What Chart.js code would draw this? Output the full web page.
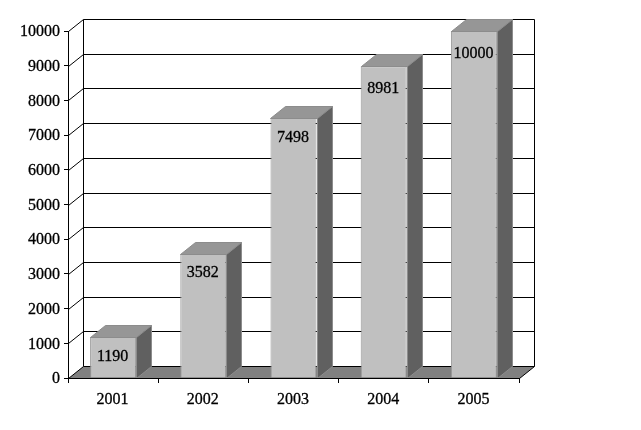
<!DOCTYPE html>
<html>
<head>
<meta charset="utf-8">
<style>
body { margin: 0; background: #fff; }
canvas { display: block; }
</style>
<script src="https://cdn.jsdelivr.net/npm/chart.js@4"></script>
</head>
<body>
<canvas id="bar-Chart" width="641" height="430"></canvas>
<script>
const years = ['2001', '2002', '2003', '2004', '2005'];
const amounts = [1190, 3582, 7498, 8981, 10000];
const yTicks = [0, 1000, 2000, 3000, 4000, 5000, 6000, 7000, 8000, 9000, 10000];

// depth of the fake 3d box
const dx = 15;
const dy = 12;
const font = '"Liberation Serif", "Times New Roman", serif';
// how far each value sits below the top of its bar
const labelDrop = [19, 18, 19, 22, 22];

function poly(c, pts, fill, stroke) {
    c.beginPath();
    pts.forEach((p, i) => i ? c.lineTo(p[0], p[1]) : c.moveTo(p[0], p[1]));
    c.closePath();
    if (fill) { c.fillStyle = fill; c.fill(); }
    if (stroke) { c.strokeStyle = stroke; c.lineWidth = 1; c.stroke(); }
}

const box3d = {
    id: 'box3d',
    beforeDatasetsDraw(chart) {
        const c = chart.ctx;
        const { left, right } = chart.chartArea;
        const y = chart.scales.y;
        const x0 = left + 0.5, x1 = right + 0.5;
        const base = Math.round(y.getPixelForValue(0)) + 0.5;
        const top = Math.round(y.getPixelForValue(10000)) + 0.5;
        c.save();
        // floor
        poly(c, [[x0, base], [x0 + dx, base - dy], [x1 + dx, base - dy], [x1, base]], '#808080', '#000');
        // wall lines
        c.strokeStyle = '#000';
        c.lineWidth = 1;
        yTicks.forEach(v => {
            if (v === 0) return;
            const py = Math.round(y.getPixelForValue(v)) + 0.5;
            c.beginPath();
            c.moveTo(x0, py);
            c.lineTo(x0 + dx, py - dy);
            c.lineTo(x1 + dx, py - dy);
            c.stroke();
        });
        c.beginPath();
        c.moveTo(x0 + dx, top - dy);
        c.lineTo(x0 + dx, base - dy);
        c.moveTo(x1 + dx, top - dy);
        c.lineTo(x1 + dx, base - dy);
        c.stroke();
        c.restore();
    },
    afterDatasetsDraw(chart) {
        const c = chart.ctx;
        const meta = chart.getDatasetMeta(0);
        c.save();
        meta.data.forEach((bar, i) => {
            const l = Math.round(bar.x - bar.width / 2) + 0.5;
            const r = Math.round(bar.x + bar.width / 2) + 0.5;
            const t = Math.round(bar.y) + 0.5;
            const b = Math.round(bar.base) + 0.5;
            poly(c, [[l, t], [l + dx, t - dy], [r + dx, t - dy], [r, t]], '#969696', '#8c8c8c');
            poly(c, [[r, t], [r + dx, t - dy], [r + dx, b - dy], [r, b]], '#606060', '#8c8c8c');
            c.fillStyle = '#000';
            c.strokeStyle = '#000';
            c.lineWidth = 0.3;
            c.font = '16px ' + font;
            c.textAlign = 'center';
            c.textBaseline = 'middle';
            c.fillText(String(amounts[i]), bar.x - 0.5, t + labelDrop[i]);
            c.strokeText(String(amounts[i]), bar.x - 0.5, t + labelDrop[i]);
        });
        c.restore();
    }
};

const ctx = document.getElementById('bar-Chart').getContext('2d');
const myChart = new Chart(ctx, {
    type: 'bar',
    data: {
        labels: years,
        datasets: [{
            data: amounts,
            backgroundColor: '#c0c0c0',
            borderColor: '#969696',
            borderWidth: 1,
            barPercentage: 0.51,
            categoryPercentage: 1
        }]
    },
    plugins: [box3d],
    options: {
        responsive: false,
        animation: false,
        devicePixelRatio: 1,
        layout: { padding: { top: 31, right: 122 } },
        plugins: { legend: { display: false }, tooltip: { enabled: false } },
        scales: {
            x: {
                afterFit(s) { s.height = 52; },
                grid: { drawOnChartArea: false, color: '#000', tickLength: 5, z: 1 },
                border: { color: '#000', z: 1 },
                ticks: {
                    color: '#000', padding: 7, maxRotation: 0, labelOffset: -0.5,
                    textStrokeColor: '#000', textStrokeWidth: 0.3,
                    font: { family: font, size: 16 }
                }
            },
            y: {
                min: 0,
                max: 10000,
                afterFit(s) { s.width = 68; },
                afterBuildTicks(s) { s.ticks = yTicks.map(v => ({ value: v })); },
                grid: { drawOnChartArea: false, color: '#000', tickLength: 4 },
                border: { color: '#000', z: 1 },
                ticks: {
                    color: '#000', padding: 4, labelOffset: 1,
                    textStrokeColor: '#000', textStrokeWidth: 0.3,
                    font: { family: font, size: 16 },
                    callback: v => String(v)
                }
            }
        }
    }
});
</script>
</body>
</html>
